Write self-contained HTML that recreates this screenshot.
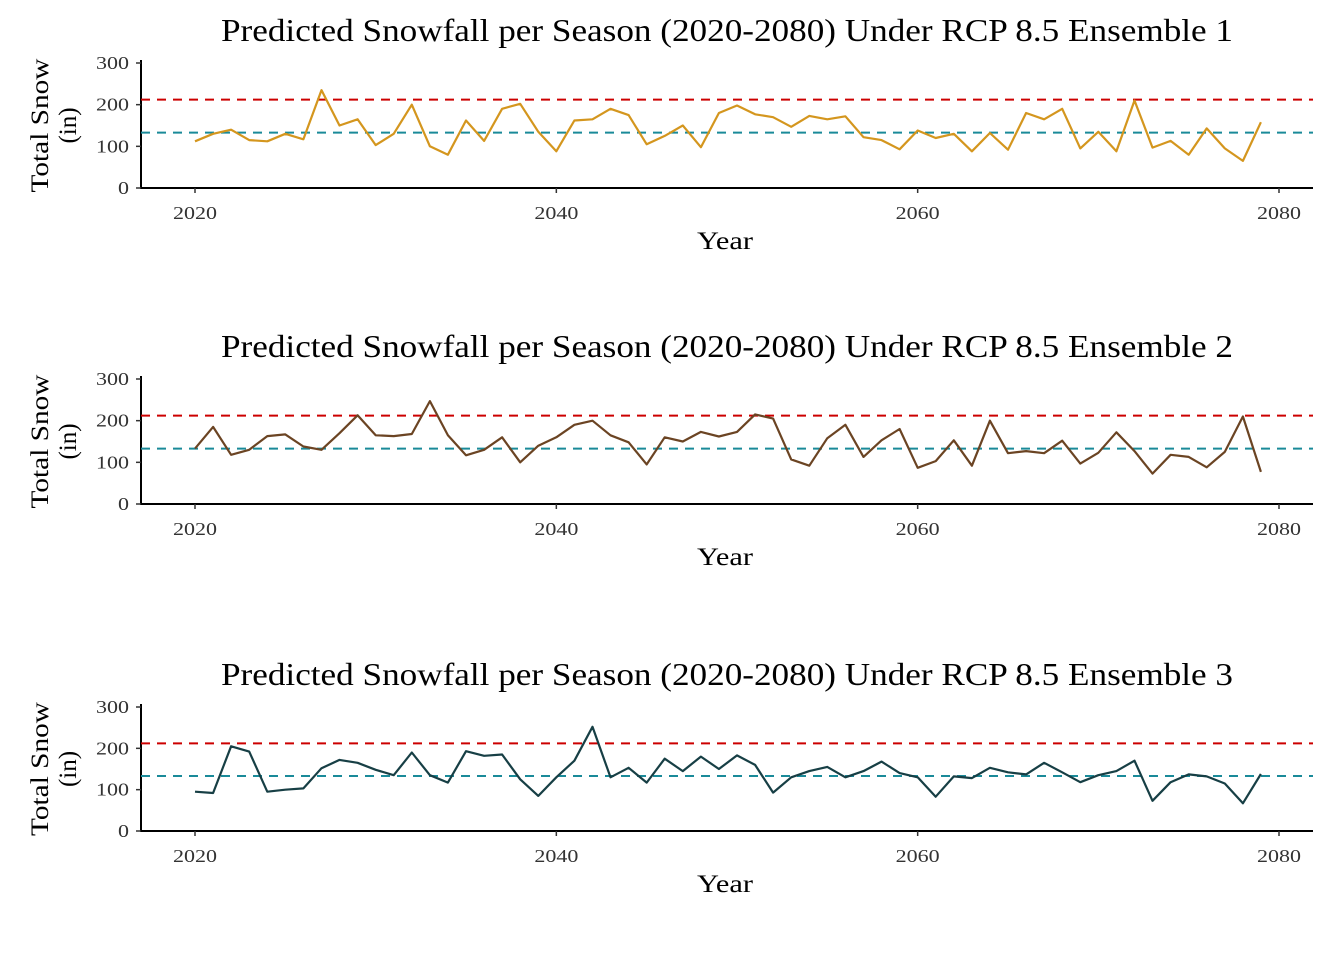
<!DOCTYPE html>
<html><head><meta charset="utf-8"><style>
body{margin:0;background:#fff;}
svg{display:block;font-family:"Liberation Serif",serif;}
</style></head><body>
<svg id="chart" width="1344" height="960" xmlns="http://www.w3.org/2000/svg"></svg>
<script>
const years = Array.from({length:60},(_, i)=>2020+i);
const ens1 = [112,130,140,115,112,130,117,235,150,165,103,130,200,100,80,162,113,190,202,135,88,162,165,190,175,105,125,150,98,180,198,177,170,147,173,165,172,122,115,93,138,120,130,88,132,92,180,165,190,95,135,88,210,97,113,80,143,95,65,158];
const ens2 = [133,185,118,130,163,167,138,130,170,213,165,163,168,247,165,117,130,160,100,140,160,190,200,165,148,95,160,150,173,162,173,215,205,107,92,158,190,113,153,180,87,103,153,92,200,122,127,122,152,97,123,172,127,73,118,113,88,125,210,77];
const ens3 = [95,92,205,192,95,100,103,152,172,165,148,135,190,135,117,193,182,185,125,85,130,170,252,130,153,117,175,145,180,150,183,160,93,130,145,155,130,145,168,140,130,83,132,128,153,142,137,165,142,118,135,145,170,73,118,137,132,115,67,138];
const redRef = 212;
const tealRef = 133;
const xTicks = [2020,2040,2060,2080];
const yTicks = [0,100,200,300];
const titles = ["Predicted Snowfall per Season (2020-2080) Under RCP 8.5 Ensemble 1","Predicted Snowfall per Season (2020-2080) Under RCP 8.5 Ensemble 2","Predicted Snowfall per Season (2020-2080) Under RCP 8.5 Ensemble 3"];
const series = [ens1, ens2, ens3];
const colors = ["#d4961e","#6b4423","#173f45"];
const panels = [{top:63,bot:188,title:40},{top:379,bot:504,title:356},{top:707,bot:831,title:684}];
const svg = document.getElementById('chart');
const NS = "http://www.w3.org/2000/svg";
function mk(tag, attrs, parent){const e=document.createElementNS(NS,tag);for(const k in attrs)e.setAttribute(k,attrs[k]);(parent||svg).appendChild(e);return e;}
const xS = v => 195 + (v-2020)*(1279-195)/60;
panels.forEach((p,pi)=>{
  const g = mk('g',{});
  
  
  const yS = v => p.bot - v*(p.bot-p.top)/300;
  const t = mk('text',{x:727,y:p.title+1,'text-anchor':'middle','font-size':32,fill:'#000',textLength:1012,lengthAdjust:'spacingAndGlyphs'},g);
  t.textContent = titles[pi];
  
  
  const ax = mk('path',{d:`M141,${p.top-3}V${p.bot}H1313`,stroke:'#000','stroke-width':2,fill:'none'},g);
  
  
  yTicks.forEach(v=>{
    mk('line',{x1:136,x2:141,y1:yS(v),y2:yS(v),stroke:'#333','stroke-width':1.5},g);
    const s = String(v);
    const tl = mk('text',{x:129,y:yS(v)+6,'text-anchor':'end','font-size':18,fill:'#333',textLength:s.length*11,lengthAdjust:'spacingAndGlyphs'},g);
    tl.textContent = s;
    
    
  });
  xTicks.forEach(v=>{
    mk('line',{x1:xS(v),x2:xS(v),y1:p.bot,y2:p.bot+5,stroke:'#333','stroke-width':1.5},g);
    const tl = mk('text',{x:xS(v),y:p.bot+31,'text-anchor':'middle','font-size':18,fill:'#333',textLength:44,lengthAdjust:'spacingAndGlyphs'},g);
    tl.textContent = v;
    
    
  });
  const xt = mk('text',{x:725,y:p.bot+61,'text-anchor':'middle','font-size':25,fill:'#000',textLength:56,lengthAdjust:'spacingAndGlyphs'},g);
  xt.textContent='Year';
  
  
  const cy=(p.top+p.bot)/2;
  const yt = mk('text',{transform:`translate(48,${cy}) rotate(-90)`,'text-anchor':'middle','font-size':25,fill:'#000'},g);
  
  
  const s1=mk('tspan',{x:0,y:0,textLength:134,lengthAdjust:'spacingAndGlyphs'},yt); s1.textContent='Total Snow';
  const s2=mk('tspan',{x:0,y:28},yt); s2.textContent='(in)';
  const r = mk('line',{x1:141,x2:1313,y1:yS(redRef),y2:yS(redRef),stroke:'#cc0000','stroke-width':2,'stroke-dasharray':'9,7'},g);
  
  
  const tl2 = mk('line',{x1:141,x2:1313,y1:yS(tealRef),y2:yS(tealRef),stroke:'#1a8a99','stroke-width':2,'stroke-dasharray':'9,7'},g);
  
  
  const d = series[pi].map((v,i)=>(i?'L':'M')+xS(years[i]).toFixed(1)+','+yS(v).toFixed(1)).join('');
  const ln = mk('path',{d:d,stroke:colors[pi],'stroke-width':2.2,fill:'none','stroke-linejoin':'round'},g);
  
  
});
</script>
</body></html>
